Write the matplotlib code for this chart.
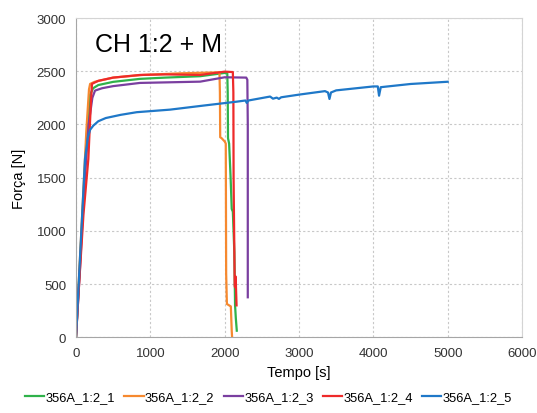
import matplotlib
matplotlib.use("Agg")
import matplotlib.pyplot as plt

plt.rcParams['font.family'] = ['Liberation Sans', 'DejaVu Sans']

labels = ['356A_1:2_1', '356A_1:2_2', '356A_1:2_3', '356A_1:2_4', '356A_1:2_5']
colors = ['#2fb24a', '#f6892f', '#7a3fa0', '#ee2a2a', '#1f78c8']

# 356A_1:2_1 (green)
t1 = [0, 40, 100, 150, 190, 230, 300, 500, 860, 1200, 1670, 2000, 2035, 2041, 2045, 2060, 2080, 2095, 2110, 2130, 2140, 2150, 2163]
f1 = [0, 520, 1320, 1950, 2280, 2340, 2370, 2400, 2428, 2440, 2453, 2484, 2484, 2300, 1870, 1820, 1500, 1206, 1180, 800, 300, 180, 62]

# 356A_1:2_2 (orange)
t2 = [0, 30, 90, 140, 175, 190, 250, 500, 900, 1400, 1930, 1936, 1940, 1960, 2000, 2015, 2020, 2030, 2060, 2083, 2095, 2100]
f2 = [0, 420, 1250, 1950, 2330, 2381, 2400, 2440, 2465, 2480, 2490, 2300, 1880, 1870, 1840, 1820, 600, 313, 300, 290, 60, 0]

# 356A_1:2_3 (purple)
t3 = [0, 50, 110, 170, 220, 256, 350, 500, 860, 1200, 1670, 2000, 2290, 2305, 2311, 2311]
f3 = [0, 600, 1400, 2000, 2250, 2318, 2340, 2360, 2390, 2395, 2402, 2443, 2440, 2420, 2000, 376]

# 356A_1:2_4 (red)
t4 = [0, 40, 100, 166, 200, 215, 300, 500, 860, 1200, 1670, 2000, 2110, 2117, 2120, 2135, 2140, 2145, 2150, 2160]
f4 = [0, 480, 1150, 1675, 2200, 2381, 2410, 2440, 2465, 2470, 2465, 2496, 2492, 2300, 1500, 485, 470, 573, 520, 300]

# 356A_1:2_5 (blue)
t5 = [0, 60, 121, 160, 190, 233, 300, 400, 600, 817, 1265, 1713, 2163, 2280, 2297, 2320, 2611, 2650, 2700, 2730, 2760,
      3000, 3350, 3390, 3410, 3430, 3500, 4000, 4060, 4077, 4100, 4500, 5000]
f5 = [0, 830, 1675, 1880, 1950, 1989, 2030, 2060, 2090, 2115, 2139, 2177, 2214, 2225, 2202, 2225, 2262, 2242, 2252, 2240, 2255,
      2280, 2313, 2300, 2239, 2300, 2320, 2357, 2357, 2270, 2350, 2380, 2401]

series = [(t1, f1), (t2, f2), (t3, f3), (t4, f4), (t5, f5)]

fig = plt.figure(figsize=(5.37, 4.14), dpi=100)
ax = fig.add_axes([76 / 537, 1 - 338.3 / 414, (522 - 76) / 537, (338.3 - 19) / 414])

for (t, f), lab, c in zip(series, labels, colors):
    ax.plot(t, f, color=c, lw=1.6, label=lab, solid_joinstyle='round')

ax.set_xlim(0, 6000)
ax.set_ylim(0, 3000)
ax.set_xticks(range(0, 6001, 1000))
ax.set_yticks(range(0, 3001, 500))
ax.grid(True, color='#c8c8c8', linestyle=(0, (2, 2)), linewidth=0.8)
ax.tick_params(length=0, labelsize=9.5, colors='#333333')
ax.tick_params(axis='x', pad=7)
ax.tick_params(axis='y', pad=7)
for s in ['left', 'bottom']:
    ax.spines[s].set_color('#a6a6a6')
for s in ['top', 'right']:
    ax.spines[s].set_color('#d4d4d4')

ax.set_xlabel('Tempo [s]', fontsize=10.5, labelpad=4)
ax.set_ylabel('Força [N]', fontsize=10.5, labelpad=8)

ax.text(250, 2760, 'CH 1:2 + M', fontsize=18, va='center', ha='left')

fig.legend(loc='lower center', ncol=5, bbox_to_anchor=(0.5, -0.005), frameon=False,
           fontsize=9.3, handlelength=1.5, columnspacing=0.7, handletextpad=0.1)

fig.savefig('out.png', dpi=100)
